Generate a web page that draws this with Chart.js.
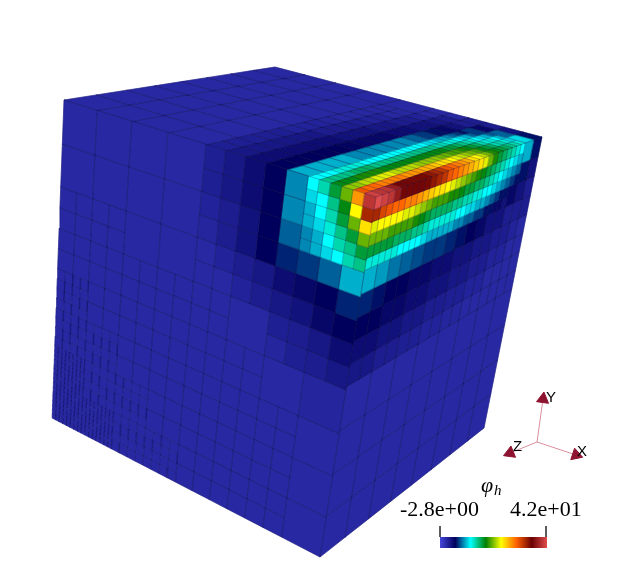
<!DOCTYPE html>
<html>
<head>
<meta charset="utf-8">
<title>phi_h on adaptive cube mesh</title>
<script src="https://cdn.jsdelivr.net/npm/chart.js@4"></script>
<style>
    html, body { margin: 0; padding: 0; background: #fff; }
    canvas { display: block; }
</style>
</head>
<body>
<canvas id="chart" width="631" height="567"></canvas>
<script>
// Colour scale (rainbow desaturated) between the two labelled limits
const phiMin = -2.8;
const phiMax = 42;
const scaleStops = ['#4747db', '#00005c', '#00ffff', '#008000', '#ffff00', '#ff6100', '#6b0000', '#e04d4d'];
const barLabels = ['-2.8e+00', '4.2e+01'];

// Visible cube corners, in picture units
const A = [64, 100], B = [275, 67], C = [542, 137], D = [376, 197];
const E = [52, 418], F = [320, 557], G = [484, 428];

// Mesh level of every 1/16 square: 0 = 1/8 cell, 1 = 1/16, 2 = 1/32, 3 = 1/64
const leftMesh = [
    '0000000011111222',
    '0000000011111222',
    '0000000011111222',
    '0000000011111111',
    '1111000011111111',
    '1111000011111111',
    '1111111111001111',
    '1111111111001111',
    '2211111111110000',
    '2211111111110000',
    '2222111111111100',
    '2222111111111100',
    '3322221111111100',
    '3322221111111100',
    '3333222211111100',
    '3333222211111100'
];
const topMesh = [
    '2222222222222211',
    '2222222222222211',
    '2222222222222111',
    '1111111111111111',
    '1111111111111111',
    '1111111111111111',
    '1111111111111100',
    '1111111111110000',
    '0000000000000000',
    '0000000000000000',
    '0000000000000000',
    '0000000000000000',
    '0000000000000000',
    '0000000000000000',
    '0000000000000000',
    '0000000000000000'
];
const rightMesh = [
    '2222222222222211',
    '2222222222222211',
    '2222222222222111',
    '1111111111111111',
    '1111111111111111',
    '1111111111111111',
    '1111111111111111',
    '1111111111111111',
    '0000000000000000',
    '0000000000000000',
    '0000000000000000',
    '0000000000000000',
    '0000000000000000',
    '0000000000000000',
    '0000000000000000',
    '0000000000000000'
];

// phi on the 1/16 squares, rows missing here are background (0)
const leftPhi = [
    [0, 0, 0, 0, 0, 0, 0, 0, 0.8, 1.5, 2.5, 3.6, 0, 0, 0, 0],
    [0, 0, 0, 0, 0, 0, 0, 0, 0.8, 1.5, 2.5, 3.6, 0, 0, 0, 0],
    [0, 0, 0, 0, 0, 0, 0, 0, 0.5, 1, 2, 3.6, 0, 0, 0, 0],
    [0, 0, 0, 0, 0, 0, 0, 0, 0.3, 1, 2, 3.6, 0, 0, 0, 0],
    [0, 0, 0, 0, 0, 0, 0, 0, 0, 0.5, 1, 1.5, 2.5, 3, 3.6, 4.5],
    [0, 0, 0, 0, 0, 0, 0, 0, 0, 0, 0.5, 1, 1.5, 2, 3, 3.6],
    [0, 0, 0, 0, 0, 0, 0, 0, 0, 0, 0, 0.3, 0.8, 1, 1.5, 2.5],
    [0, 0, 0, 0, 0, 0, 0, 0, 0, 0, 0, 0, 0.3, 0.8, 1, 1.5],
    [0, 0, 0, 0, 0, 0, 0, 0, 0, 0, 0, 0, 0, 0, 0.3, 0.5]
];
const topPhi = [
    [], [], [], [],
    [3.6, 3.6, 3.6, 3.6, 3.6, 3.3, 3, 3, 3, 2.5, 2.5, 2, 2, 1.5, 1, 0],
    [2.5, 2.5, 2.5, 2.5, 2.5, 2.5, 2, 2, 2, 1.5, 1.5, 1, 1, 0.5, 0, 0],
    [1.5, 1.5, 1.5, 1.5, 1.5, 1.5, 1, 1, 1, 0.8, 0.5, 0.5, 0, 0, 0, 0],
    [0.8, 0.8, 0.8, 0.8, 0.8, 0.5, 0.5, 0.5, 0.3, 0, 0, 0, 0, 0, 0, 0]
];
const rightPhi = [
    [], [], [], [],
    [4.5, 4, 3.6, 3.6, 3, 3, 2.5, 2.5, 2, 2, 1.5, 1.5, 1, 1, 0.5, 0],
    [3.6, 3.6, 3, 3, 2.5, 2.5, 2, 2, 1.5, 1.5, 1, 1, 0.5, 0.5, 0, 0],
    [2.5, 2.5, 2, 2, 1.5, 1.5, 1, 1, 0.8, 0.8, 0.5, 0.5, 0, 0, 0, 0],
    [1.5, 1.5, 1, 1, 0.8, 0.8, 0.5, 0.5, 0.3, 0.3, 0, 0, 0, 0, 0, 0]
];

// phi on the 1/32 cells next to the hot edge
const leftHotStart = 24;
const leftHot = [
    [7, 7, 10, 12, 15, 19, 27, 40],
    [7, 7, 9, 10, 13, 16, 23, 33],
    [7, 7, 8, 10, 12, 15, 19, 24],
    [6, 6, 8, 9, 11, 13, 15, 19],
    [6, 6, 7, 8, 10, 12, 13, 15],
    [5, 5, 7, 8, 9, 10, 12, 13],
    [4.5, 4.5, 5, 5, 6, 6, 8, 8],
    [4.5, 4.5, 5, 5, 6, 6, 8, 8]
];
const topHot = [
    [41, 40, 40, 38, 36, 36, 35, 35, 35, 34, 33, 32, 30, 29, 28, 27, 26, 24, 23, 21, 19, 17, 16, 15, 14, 13, 12, 11, 9, 7, 4, 2.5],
    [30, 29, 29, 28, 28, 28, 28, 27, 27, 27, 26, 26, 25, 24, 24, 23, 22, 21, 20, 19, 18, 16, 15, 14, 12, 12, 11, 9, 7, 5, 3, 2],
    [20, 20, 21, 21, 22, 22, 22, 21, 21, 21, 21, 20, 20, 20, 20, 19, 19, 18, 18, 17, 16, 15, 14, 12, 11, 11, 10, 8, 6, 4, 2, 1],
    [16, 16, 16, 17, 17, 17, 17, 16, 16, 16, 16, 16, 16, 16, 16, 16, 16, 16, 15, 15, 14, 13, 12, 11, 10, 9, 8, 6, 4, 3, 1, 1],
    [13, 13, 13, 13, 14, 14, 14, 13, 13, 13, 13, 13, 13, 13, 13, 13, 13, 13, 12, 12, 11, 11, 10, 9, 8, 6, 5, 4, 3, 2, 1, 1],
    [10, 10, 10, 11, 11, 11, 11, 10, 10, 10, 10, 10, 10, 10, 10, 10, 10, 10, 9, 9, 8, 8, 7, 6, 5, 4, 3, 3, 2, 1, 1, 1],
    [8, 8, 8, 8, 8, 8, 8, 7, 7, 7, 7, 7, 7, 7, 7, 7, 7, 6, 6, 6, 5, 4, 4, 3, 3, 2, 2, 1, 1, 1, 1, 0],
    [7, 7, 7, 7, 7, 7, 7, 6, 6, 6, 6, 6, 6, 6, 6, 6, 5, 5, 5, 4, 4, 3, 3, 3, 2, 2, 1, 1, 1, 1, 0, 0]
];
const rightHot = [
    [42, 41, 40, 38, 36, 36, 36, 36, 35, 34, 33, 32, 30, 29, 28, 27, 26, 25, 24, 22, 19, 17, 15, 14, 13, 12, 11, 10, 8, 6, 4, 2],
    [33, 31, 30, 29, 29, 28, 28, 27, 26, 25, 24, 24, 23, 22, 21, 20, 19, 18, 17, 16, 15, 14, 13, 12, 11, 10, 9, 8, 6, 4, 3, 2],
    [22, 23, 23, 23, 23, 22, 22, 21, 20, 19, 18, 18, 18, 17, 17, 16, 15, 15, 14, 14, 13, 12, 11, 10, 9, 8, 7, 6, 4, 3, 2, 1.5],
    [19, 19, 19, 18, 18, 18, 18, 17, 16, 15, 14, 14, 14, 14, 13, 13, 12, 12, 11, 11, 10, 10, 9, 8, 7, 6, 5, 4, 3, 2.5, 1.5, 1],
    [15, 15, 15, 15, 14, 14, 14, 13, 13, 12, 11, 11, 11, 11, 11, 10, 10, 9, 9, 8, 8, 7, 6, 5, 4, 4, 3, 3, 2, 1, 1, 1],
    [11, 11, 11, 11, 11, 10, 10, 10, 10, 9, 8, 8, 8, 8, 8, 7, 7, 6, 6, 5, 5, 4, 4, 3, 3, 2, 2, 1, 1, 1, 1, 0],
    [8, 8, 7.5, 7.5, 6.5, 6.5, 6, 6, 5.5, 5.5, 5, 5, 5, 5, 4.5, 4.5, 4, 4, 3.6, 3.6, 3, 3, 2, 2, 2, 1, 1, 1, 1, 1, 1, 0],
    [8, 8, 7.5, 7.5, 6.5, 6.5, 6, 6, 5.5, 5.5, 5, 5, 5, 5, 4.5, 4.5, 4, 4, 3.6, 3.6, 3, 3, 2, 2, 2, 1, 1, 1, 1, 1, 1, 0]
];

// Orientation triad
const triadOrigin = [537, 442];
const triadTips = [[543, 399], [576, 455], [510, 453]];
const triadLabels = ['Y', 'X', 'Z'];

const faces = [
    { corners: [A, D, F, E], mesh: leftMesh, phi: leftPhi, hot: leftHot, hotStart: leftHotStart },
    { corners: [D, C, B, A], mesh: topMesh, phi: topPhi, hot: topHot, hotStart: 0 },
    { corners: [D, C, G, F], mesh: rightMesh, phi: rightPhi, hot: rightHot, hotStart: 0 }
];

function hexToRgb(hex) {
    return [1, 3, 5].map(i => parseInt(hex.substr(i, 2), 16));
}

function phiColor(phi) {
    const t = Math.min(1, Math.max(0, (phi - phiMin) / (phiMax - phiMin))) * (scaleStops.length - 1);
    const i = Math.min(scaleStops.length - 2, Math.floor(t));
    const a = hexToRgb(scaleStops[i]);
    const b = hexToRgb(scaleStops[i + 1]);
    const c = a.map((v, k) => Math.round(v + (b[k] - v) * (t - i)));
    return `rgb(${c[0]},${c[1]},${c[2]})`;
}

// Projective map of the unit square onto a face quad
function makeProjection(q) {
    const [p0, p1, p2, p3] = q;
    const dx1 = p1[0] - p2[0], dx2 = p3[0] - p2[0], sx = p0[0] - p1[0] + p2[0] - p3[0];
    const dy1 = p1[1] - p2[1], dy2 = p3[1] - p2[1], sy = p0[1] - p1[1] + p2[1] - p3[1];
    const det = dx1 * dy2 - dx2 * dy1;
    const g = (sx * dy2 - dx2 * sy) / det;
    const h = (dx1 * sy - sx * dy1) / det;
    const a = p1[0] - p0[0] + g * p1[0], b = p3[0] - p0[0] + h * p3[0];
    const d = p1[1] - p0[1] + g * p1[1], e = p3[1] - p0[1] + h * p3[1];
    return (u, v) => {
        const w = g * u + h * v + 1;
        return { x: (a * u + b * v + p0[0]) / w, y: (d * u + e * v + p0[1]) / w };
    };
}

// Cell positions are in 1/64 of a face side
function cellPhi(face, u, v) {
    const col = Math.floor(u / 2) - face.hotStart;
    const row = Math.floor(v / 2);
    if (col >= 0 && row < face.hot.length) return face.hot[row][col];
    const line = face.phi[Math.floor(v / 4)];
    return (line && line[Math.floor(u / 4)]) || 0;
}

// Every cell is two datasets: its fill below, its mesh outline above
function pushCell(out, face, project, u, v, size) {
    const k = 1 / 64;
    const color = phiColor(cellPhi(face, u, v));
    const data = [
        project(u * k, v * k),
        project((u + size) * k, v * k),
        project((u + size) * k, (v + size) * k),
        project(u * k, (v + size) * k),
        project(u * k, v * k)
    ];
    out.push({
        data,
        order: 3,
        showLine: true,
        fill: 'shape',
        backgroundColor: color,
        borderColor: color,
        borderWidth: 0.6,
        pointRadius: 0
    });
    // finer cells get a fainter outline, the lines crowd otherwise
    const alpha = size >= 4 ? 0.3 : size === 2 ? 0.2 : 0.13;
    out.push({
        data,
        order: 2,
        showLine: true,
        fill: false,
        borderColor: `rgba(10,10,60,${alpha})`,
        borderWidth: 0.7,
        pointRadius: 0
    });
}

function buildFaceCells(face) {
    const project = makeProjection(face.corners);
    const out = [];
    const level = (c, r) => Number(face.mesh[r][c]);
    for (let r8 = 0; r8 < 8; r8++) {
        for (let c8 = 0; c8 < 8; c8++) {
            const c = c8 * 2, r = r8 * 2;
            if (!level(c, r) && !level(c + 1, r) && !level(c, r + 1) && !level(c + 1, r + 1)) {
                pushCell(out, face, project, c * 4, r * 4, 8);
                continue;
            }
            for (let dr = 0; dr < 2; dr++) {
                for (let dc = 0; dc < 2; dc++) {
                    // a 0 mixed with finer neighbours counts as 1/16
                    const lv = Math.max(1, level(c + dc, r + dr));
                    const size = 4 >> (lv - 1);
                    for (let v = 0; v < 4; v += size) {
                        for (let u = 0; u < 4; u += size) {
                            pushCell(out, face, project, (c + dc) * 4 + u, (r + dr) * 4 + v, size);
                        }
                    }
                }
            }
        }
    }
    return out;
}

function plainLine(a, b, color, width) {
    return {
        data: [{ x: a[0], y: a[1] }, { x: b[0], y: b[1] }],
        order: 1,
        showLine: true,
        fill: false,
        borderColor: color,
        borderWidth: width,
        pointRadius: 0
    };
}

const canvas = document.getElementById('chart');
const ctx = canvas.getContext('2d');

const datasets = [];
faces.forEach(face => datasets.push(...buildFaceCells(face)));

// Colour bar
const barX0 = 440, barX1 = 547, barY0 = 537, barY1 = 548;
const barGradient = ctx.createLinearGradient(barX0, 0, barX1, 0);
scaleStops.forEach((c, i) => barGradient.addColorStop(i / (scaleStops.length - 1), c));
datasets.push({
    data: [
        { x: barX0, y: barY0 }, { x: barX1, y: barY0 },
        { x: barX1, y: barY1 }, { x: barX0, y: barY1 }, { x: barX0, y: barY0 }
    ],
    order: 1,
    showLine: true,
    fill: 'shape',
    backgroundColor: barGradient,
    borderWidth: 0,
    borderColor: 'transparent',
    pointRadius: 0
});
datasets.push(plainLine([barX0, 526], [barX0, 537], '#444', 1));
datasets.push(plainLine([barX1 - 1, 526], [barX1 - 1, 537], '#444', 1));

// Triad
triadTips.forEach(tip => {
    const ds = plainLine(triadOrigin, tip, '#d98f9c', 1);
    const angle = Math.atan2(tip[0] - triadOrigin[0], triadOrigin[1] - tip[1]) * 180 / Math.PI;
    ds.pointStyle = 'triangle';
    ds.pointRotation = angle;
    ds.pointRadius = [0, 7];
    ds.pointBackgroundColor = '#8e1330';
    ds.pointBorderColor = '#8e1330';
    datasets.push(ds);
});

// Colour bar labels, title and triad letters
const labelPlugin = {
    id: 'labels',
    afterDraw(chart) {
        const c = chart.ctx, sx = chart.scales.x, sy = chart.scales.y;
        const put = (text, x, y, font) => {
            c.font = font;
            c.fillText(text, sx.getPixelForValue(x), sy.getPixelForValue(y));
        };
        c.save();
        c.fillStyle = '#000';
        c.textBaseline = 'alphabetic';
        put(barLabels[0], 400, 516, '22px "Liberation Serif"');
        put(barLabels[1], 510, 516, '22px "Liberation Serif"');
        put('\u03c6', 481, 492, 'italic 22px "Liberation Serif"');
        put('h', 494, 495, 'italic 15px "Liberation Serif"');
        put(triadLabels[0], 546, 402, '15px "Liberation Sans"');
        put(triadLabels[1], 577, 456, '15px "Liberation Sans"');
        put(triadLabels[2], 513, 451, '15px "Liberation Sans"');
        c.restore();
    }
};

new Chart(ctx, {
    type: 'scatter',
    data: { datasets },
    options: {
        responsive: false,
        animation: false,
        events: [],
        layout: { padding: 0, autoPadding: false },
        plugins: { legend: { display: false }, tooltip: { enabled: false } },
        scales: {
            x: { display: false, min: 0, max: 631 },
            y: { display: false, min: 0, max: 567, reverse: true }
        }
    },
    plugins: [labelPlugin]
});
</script>
</body>
</html>
